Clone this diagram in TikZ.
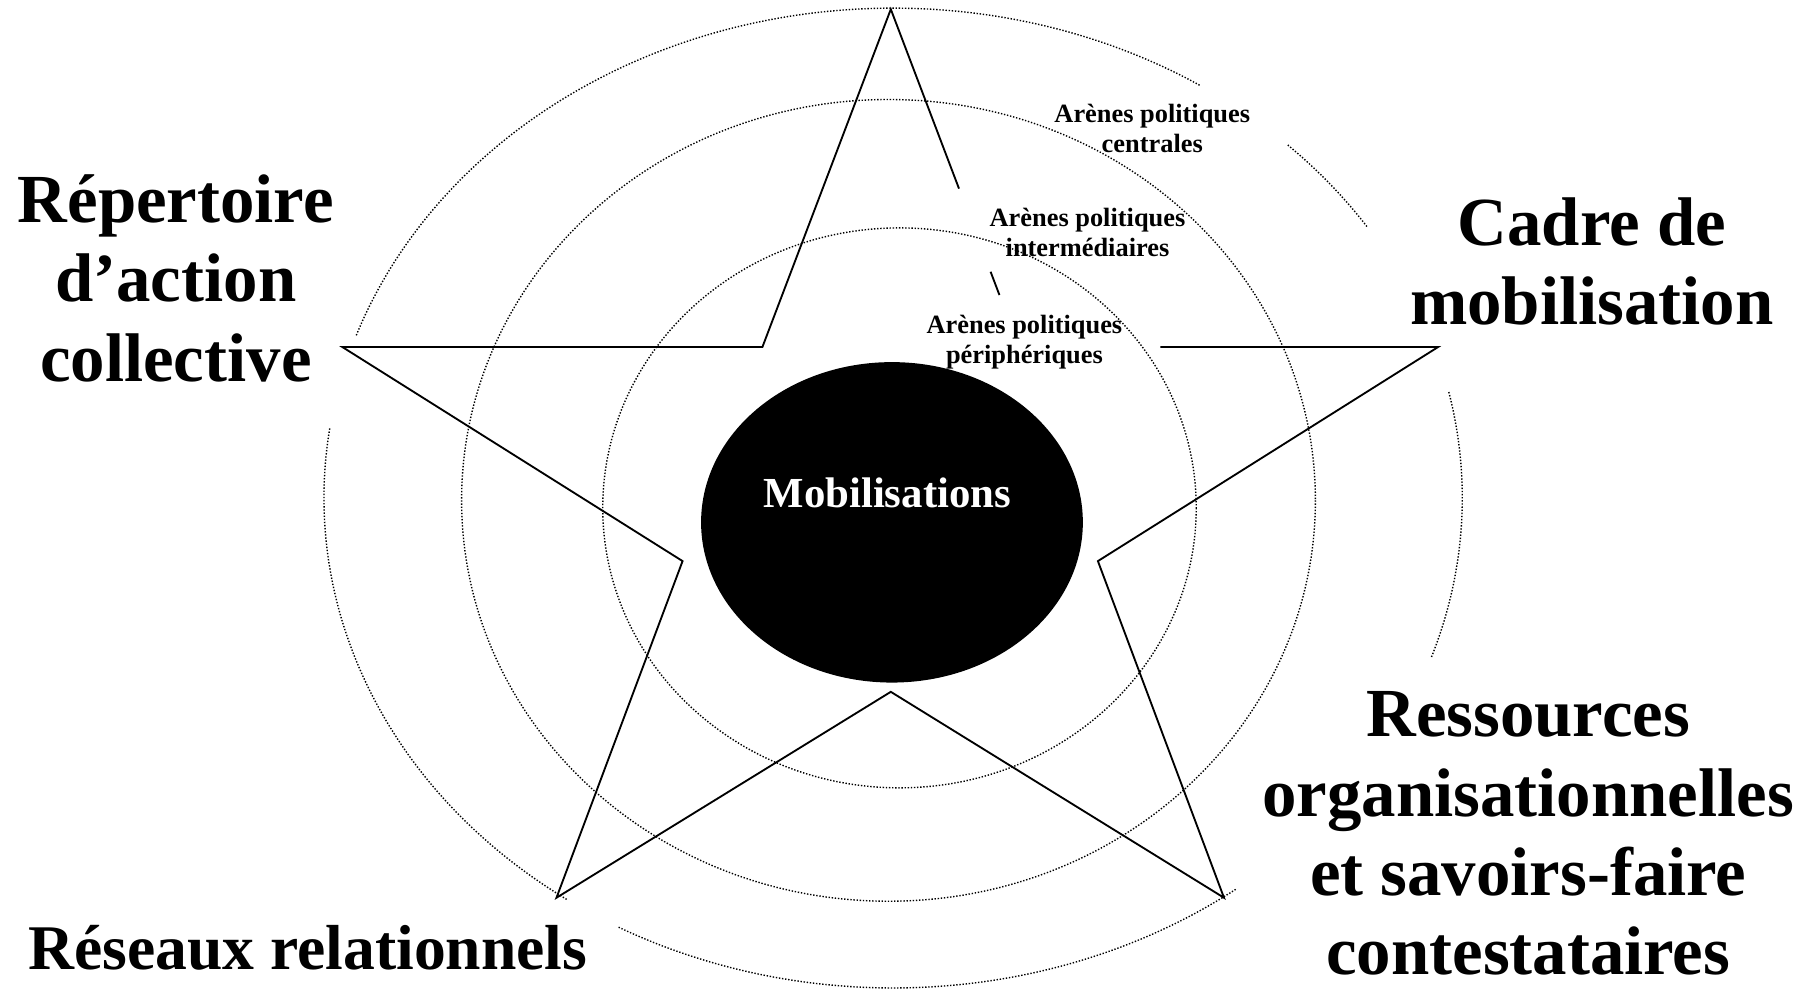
\documentclass[tikz,border=0pt]{standalone}
\usepackage{fontspec}
\setmainfont{Liberation Serif}
\usetikzlibrary{shapes.geometric,calc}
\begin{document}
\begin{tikzpicture}[x=1pt,y=-1pt,
  dots/.style={line width=1.2pt, dash pattern=on 1.2pt off 1.5pt},
  starline/.style={line width=1.6pt, line join=miter},
  big/.style={font=\fontsize{59.5}{68.5}\selectfont\bfseries, align=center, inner sep=0pt},
  small/.style={font=\fontsize{22.8}{26}\selectfont\bfseries, align=center, inner sep=0pt},
  core/.style={ellipse, fill=black, draw=none, minimum width=330pt, minimum height=277pt, inner sep=0pt}]

\useasboundingbox (0,0) rectangle (1568,856);

% concentric arenas (dotted)
\draw[dots] (768,432.5) ellipse [x radius=369, y radius=346.5];
\draw[dots] (777.5,439) ellipse [x radius=256.5, y radius=242];
\draw[dots, variable=\t, samples=120, domain=-160.6:-57.4] plot ({772+492*cos(\t)},{430.5+423.5*sin(\t)});
\draw[dots, variable=\t, samples=30, domain=-46.1:-33.5] plot ({772+492*cos(\t)},{430.5+423.5*sin(\t)});
\draw[dots, variable=\t, samples=40, domain=-12.5:19.1] plot ({772+492*cos(\t)},{430.5+423.5*sin(\t)});
\draw[dots, variable=\t, samples=80, domain=53:119] plot ({772+492*cos(\t)},{430.5+423.5*sin(\t)});
\draw[dots, variable=\t, samples=80, domain=-235:-171.8] plot ({772+492*cos(\t)},{430.5+423.5*sin(\t)});

% star
\coordinate (T) at (770,8);
\coordinate (IUL) at (659,300);
\coordinate (L) at (296,300);
\coordinate (ILL) at (590,485);
\coordinate (BL) at (481,776);
\coordinate (IB) at (770,598);
\coordinate (BR) at (1058,776);
\coordinate (ILR) at (949,485);
\coordinate (R) at (1243,300);
\coordinate (IUR) at (881,300);
\coordinate (IURv) at (1003,300);
\draw[starline] (IURv) -- (R) -- (ILR) -- (BR) -- (IB) -- (BL) -- (ILL) -- (L) -- (IUL) -- (T) -- ($(T)!0.531!(IUR)$);
\draw[starline] ($(T)!0.777!(IUR)$) -- ($(T)!0.846!(IUR)$);

% centre
\node[core] (mob) at (771,451.5) {};
\node[font=\fontsize{37}{42}\selectfont\bfseries, text=white, inner sep=0pt, anchor=base] (mobtxt) at (767,438.5) {Mobilisations};

% arena labels
\node[small] (central) at (996,113.3) {\strut Arènes politiques\\centrales\strut};
\node[small] (inter) at (940,203.3) {\strut Arènes politiques\\intermédiaires\strut};
\node[small] (peri) at (885.5,295.8) {\strut Arènes politiques\\périphériques\strut};

% dimension labels
\node[big] (rep) at (152,247.3) {\strut Répertoire\\d’action\\collective\strut};
\node[big] (cadre) at (1376,232.5) {\strut Cadre de\\mobilisation\strut};
\node[big] (res) at (1321,726) {\strut Ressources\\organisationnelles\\et savoirs-faire\\contestataires\strut};
\node[font=\fontsize{55}{63}\selectfont\bfseries, inner sep=0pt, anchor=base] (reseaux) at (266,838) {Réseaux relationnels};
\end{tikzpicture}
\end{document}
